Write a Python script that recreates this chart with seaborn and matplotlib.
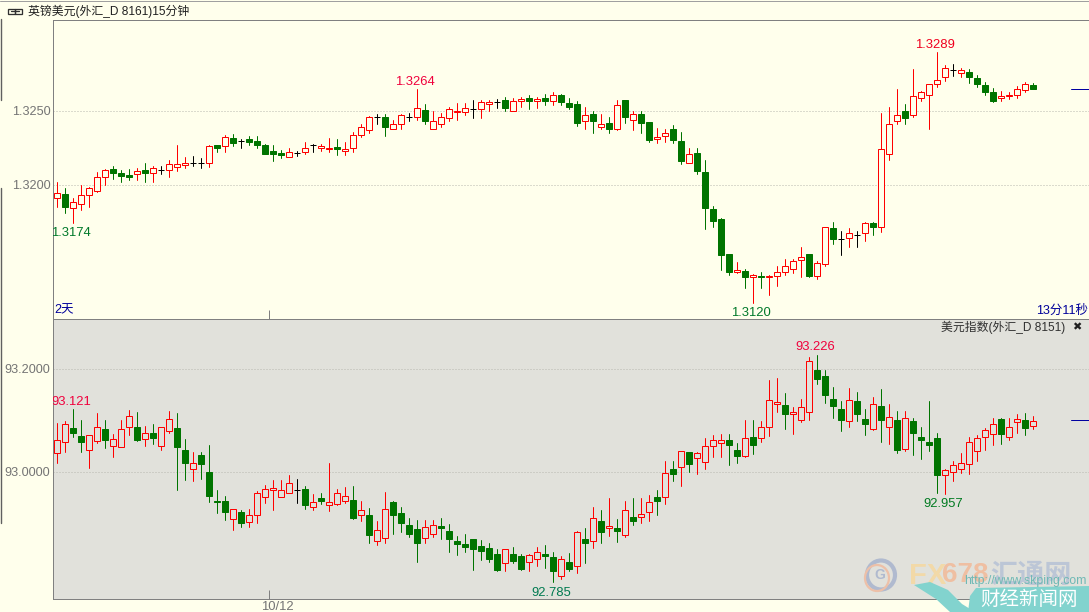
import matplotlib
matplotlib.use("Agg")
import numpy as np
import pandas as pd
import seaborn as sns
import matplotlib.pyplot as plt
from matplotlib.lines import Line2D
from matplotlib.patches import Polygon, Ellipse, Rectangle

# ---------------- GBP/USD 15-minute candles ----------------
top_high = [1.32016,1.31975,1.31908,1.31995,1.31982,1.32083,1.32104,1.32124,1.32097,1.32104,
1.32115,1.32144,1.32124,1.32126,1.32164,1.32266,1.32185,1.32191,1.32182,1.3227,
1.3227,1.32333,1.3234,1.32306,1.32327,1.32327,1.32272,1.32266,1.32234,1.32245,
1.3223,1.32286,1.32272,1.32272,1.32313,1.32306,1.32286,1.32354,1.32412,1.32462,
1.32477,1.32475,1.32439,1.3248,1.32482,1.32644,1.32543,1.32495,1.32482,1.32522,
1.32549,1.32549,1.3257,1.3257,1.3257,1.32581,1.3259,1.32583,1.3259,1.32604,
1.3259,1.3261,1.32624,1.3261,1.32583,1.32563,1.32522,1.32495,1.32475,1.32455,
1.3257,1.3257,1.32495,1.32495,1.32421,1.32381,1.32374,1.32401,1.32354,1.32245,
1.32245,1.32164,1.31854,1.31773,1.31529,1.31475,1.31428,1.31394,1.31408,1.31392,
1.31448,1.31496,1.315,1.31577,1.31534,1.31487,1.31716,1.31746,1.31685,1.31705,
1.31687,1.31746,1.31746,1.32482,1.32522,1.32644,1.32543,1.32779,1.32631,1.32682,
1.32894,1.32811,1.32813,1.3279,1.32779,1.32739,1.32691,1.32651,1.32631,1.32624,
1.32664,1.32691,1.32685]
top_low = [1.31849,1.31809,1.31741,1.31831,1.31849,1.3195,1.31998,1.32036,1.32018,1.32032,
1.32032,1.32018,1.32018,1.32072,1.32052,1.32092,1.32113,1.32124,1.32115,1.32119,
1.32221,1.32221,1.32261,1.32248,1.3227,1.32248,1.32207,1.3216,1.3218,1.32189,
1.32196,1.32209,1.32221,1.32227,1.32221,1.322,1.322,1.32221,1.32324,1.32349,
1.32408,1.32327,1.32376,1.32376,1.3243,1.32435,1.32408,1.32378,1.3239,1.3243,
1.32435,1.32468,1.32453,1.32448,1.32495,1.32516,1.32495,1.325,1.32522,1.32509,
1.32516,1.32536,1.32536,1.32536,1.32511,1.32394,1.32374,1.32349,1.32374,1.32349,
1.32369,1.32417,1.32367,1.32349,1.32286,1.32282,1.32286,1.32279,1.3214,1.32149,
1.32072,1.31698,1.31714,1.31421,1.31387,1.31401,1.313,1.31201,1.313,1.31252,
1.31313,1.31387,1.31401,1.31374,1.31374,1.3136,1.31448,1.31597,1.31523,1.31577,
1.31577,1.31617,1.31658,1.31678,1.32164,1.32408,1.32408,1.32455,1.32563,1.32374,
1.32658,1.32698,1.32732,1.32725,1.32685,1.32658,1.32604,1.32556,1.32563,1.32577,
1.32583,1.32624,1.32644]
top_open = [1.31912,1.31935,1.31845,1.31872,1.31932,1.31959,1.32054,1.32104,1.32077,1.32063,
1.32074,1.32097,1.32081,1.32099,1.32101,1.32122,1.32135,1.32146,1.32144,1.32149,
1.32268,1.32263,1.32313,1.32293,1.32306,1.32293,1.32266,1.32225,1.32214,1.32189,
1.32214,1.32223,1.32266,1.3225,1.32243,1.32252,1.3223,1.3225,1.32338,1.32372,
1.32455,1.32455,1.32378,1.32412,1.32457,1.32459,1.32502,1.32378,1.32412,1.32453,
1.32493,1.32493,1.32513,1.32513,1.32547,1.32561,1.3257,1.325,1.32567,1.32583,
1.32567,1.32583,1.32567,1.32604,1.32549,1.32543,1.32432,1.32475,1.32392,1.32414,
1.32376,1.3257,1.32439,1.32475,1.32421,1.32311,1.32331,1.32374,1.32293,1.32149,
1.32212,1.32083,1.31833,1.31766,1.31529,1.3141,1.31414,1.31378,1.31385,1.31378,
1.31385,1.31412,1.31433,1.31493,1.31529,1.31385,1.31464,1.31705,1.31635,1.31642,
1.31662,1.31676,1.31739,1.31714,1.32209,1.32432,1.32495,1.32471,1.32588,1.32608,
1.32682,1.3273,1.32777,1.32757,1.32759,1.32718,1.32671,1.32624,1.32588,1.32601,
1.32606,1.32642,1.32671]
top_close = [1.31946,1.31849,1.31885,1.31932,1.3198,1.32054,1.32101,1.32079,1.32059,1.32052,
1.32095,1.32079,1.32115,1.32099,1.32142,1.32142,1.32149,1.32146,1.32144,1.32263,
1.32248,1.32324,1.32282,1.32293,1.32288,1.32268,1.32207,1.32207,1.32198,1.32223,
1.32214,1.3225,1.32266,1.32263,1.3225,1.32241,1.32243,1.32338,1.32392,1.32459,
1.32455,1.3239,1.32412,1.32473,1.32457,1.3252,1.3243,1.32432,1.32459,1.32513,
1.325,1.3252,1.32513,1.32561,1.32561,1.32561,1.32518,1.32567,1.32581,1.32565,
1.32581,1.32565,1.32608,1.32556,1.32525,1.32417,1.32473,1.3243,1.32412,1.32376,
1.3254,1.32457,1.3248,1.32417,1.32302,1.32324,1.32351,1.32302,1.3216,1.32209,
1.32092,1.31842,1.31755,1.31525,1.31408,1.31426,1.31376,1.31392,1.31376,1.31385,
1.31412,1.31453,1.31487,1.31514,1.31381,1.31473,1.31716,1.31633,1.31635,1.31676,
1.31662,1.31743,1.31714,1.32243,1.32412,1.32473,1.3245,1.32601,1.32628,1.32682,
1.32709,1.3279,1.32777,1.32777,1.32725,1.32678,1.32626,1.32563,1.32601,1.32608,
1.32649,1.32682,1.32646]

# ---------------- US dollar index candles ----------------
bot_high = [93.094,93.098,93.121,93.100,93.072,93.113,93.100,93.074,93.100,93.119,
93.115,93.088,93.092,93.087,93.117,93.113,93.063,93.039,93.038,93.051,
92.964,92.952,92.928,92.925,92.927,92.962,92.975,92.983,92.983,92.993,
92.985,92.973,92.956,92.958,93.016,92.966,92.970,92.972,92.944,92.929,
92.904,92.960,92.944,92.931,92.911,92.907,92.906,92.906,92.911,92.898,
92.876,92.880,92.869,92.867,92.861,92.849,92.849,92.853,92.840,92.841,
92.853,92.857,92.845,92.836,92.843,92.884,92.890,92.931,92.925,92.948,
92.909,92.944,92.948,92.948,92.954,92.964,93.020,93.020,93.041,93.039,
93.038,93.065,93.072,93.074,93.074,93.055,93.100,93.100,93.098,93.177,
93.181,93.152,93.125,93.142,93.222,93.226,93.197,93.164,93.137,93.162,
93.154,93.121,93.144,93.160,93.131,93.117,93.117,93.105,93.086,93.137,
93.076,93.006,93.020,93.036,93.067,93.071,93.084,93.105,93.105,93.104,
93.111,93.113,93.109]
bot_low = [93.016,93.039,93.067,93.038,93.008,93.055,93.045,93.028,93.047,93.071,
93.060,93.049,93.053,93.043,93.076,92.964,92.983,92.981,92.985,92.942,
92.919,92.906,92.886,92.892,92.892,92.900,92.939,92.925,92.950,92.958,
92.940,92.927,92.925,92.937,92.923,92.935,92.939,92.909,92.904,92.861,
92.857,92.861,92.880,92.882,92.874,92.824,92.861,92.873,92.869,92.845,
92.838,92.845,92.810,92.828,92.824,92.808,92.807,92.822,92.810,92.808,
92.816,92.814,92.785,92.791,92.807,92.803,92.822,92.851,92.861,92.876,
92.863,92.874,92.896,92.900,92.904,92.915,92.937,92.981,92.973,92.999,
92.995,93.006,93.028,93.028,93.012,93.016,93.028,93.034,93.057,93.069,
93.115,93.082,93.074,93.096,93.100,93.171,93.133,93.104,93.078,93.086,
93.098,93.072,93.081,93.057,93.053,93.036,93.041,93.032,93.024,93.041,
92.958,92.957,92.981,92.997,92.995,93.020,93.043,93.051,93.053,93.061,
93.076,93.071,93.082]
bot_open = [93.037,93.058,93.085,93.070,93.043,93.060,93.083,93.049,93.047,93.087,
93.087,93.064,93.076,93.050,93.078,93.085,93.043,93.006,93.032,92.999,
92.944,92.944,92.909,92.921,92.903,92.915,92.950,92.965,92.951,92.959,
92.964,92.966,92.932,92.948,92.936,92.937,92.944,92.946,92.916,92.915,
92.866,92.871,92.942,92.919,92.896,92.888,92.871,92.879,92.894,92.884,
92.865,92.859,92.869,92.855,92.851,92.841,92.823,92.840,92.836,92.825,
92.831,92.840,92.834,92.798,92.824,92.816,92.869,92.866,92.904,92.891,
92.890,92.878,92.913,92.912,92.922,92.950,92.951,93.006,93.010,93.039,
93.027,93.019,93.049,93.056,93.061,93.043,93.030,93.067,93.066,93.087,
93.132,93.129,93.112,93.100,93.115,93.197,93.185,93.142,93.121,93.098,
93.137,93.102,93.082,93.127,93.087,93.100,93.044,93.098,93.067,93.057,
93.065,92.994,93.000,93.006,93.014,93.041,93.068,93.074,93.102,93.068,
93.097,93.100,93.089]
bot_close = [93.062,93.093,93.075,93.058,93.072,93.087,93.061,93.064,93.083,93.109,
93.061,93.076,93.065,93.087,93.103,93.048,93.017,93.017,93.015,92.953,
92.942,92.922,92.928,92.900,92.915,92.959,92.967,92.969,92.965,92.979,
92.964,92.935,92.942,92.943,92.942,92.959,92.953,92.911,92.926,92.878,
92.887,92.928,92.915,92.900,92.880,92.861,92.893,92.897,92.890,92.869,
92.859,92.853,92.849,92.847,92.830,92.810,92.849,92.826,92.812,92.839,
92.845,92.836,92.807,92.831,92.812,92.883,92.861,92.911,92.882,92.895,
92.884,92.926,92.904,92.918,92.942,92.944,92.998,92.995,93.041,93.014,
93.037,93.050,93.062,93.062,93.051,93.030,93.066,93.051,93.087,93.140,
93.135,93.111,93.115,93.126,93.214,93.179,93.148,93.127,93.100,93.140,
93.111,93.092,93.132,93.100,93.107,93.043,93.105,93.076,93.061,93.051,
92.993,93.004,93.012,93.016,93.058,93.066,93.080,93.093,93.074,93.087,
93.103,93.085,93.099]

top_ticks = [1.3200, 1.3250]
bot_ticks = [93.0, 93.2]
date_tick = 26.5
date_label = "10/12"
top_title = "英镑美元(外汇_D 8161)15分钟"
bot_title = "美元指数(外汇_D 8151)"
top_last, bot_last = 1.32649, 93.0996

PALE = "#FFFFEC"
PANEL = "#E1E1DB"
RED, GREEN, BLACK = "#FF0000", "#007400", "#000000"
GRAY = "#808080"
W, H = 1089, 612
LEFT = 53.2
FIRST_CANDLE_PX = 57.2

sns.set_theme(style="white")
plt.rcParams["font.family"] = ["Liberation Sans", "Noto Sans CJK SC", "DejaVu Sans"]
PX = 0.72  # one pixel, in points, at dpi 100

fig = plt.figure(figsize=(W / 100, H / 100), dpi=100, facecolor=PALE)


def make_axes(y_top, y_bot):
    return fig.add_axes([LEFT / W, 1 - y_bot / H, (W - LEFT) / W, (y_bot - y_top) / H])


def draw_candles(ax, opens, highs, lows, closes, bg, ylim, ticks):
    o, h, l, c = map(np.asarray, (opens, highs, lows, closes))
    n = len(o)
    idx = np.arange(n)
    kind = np.where(c > o, "up", np.where(c < o, "down", "flat"))
    df = pd.DataFrame({"i": np.r_[idx, idx], "price": np.r_[h, l], "kind": np.r_[kind, kind]})
    sns.lineplot(data=df, x="i", y="price", hue="kind", units="i", estimator=None,
                 palette={"up": RED, "down": GREEN, "flat": BLACK}, legend=False,
                 linewidth=PX, sort=False, ax=ax, zorder=2)
    ax.bar(idx[kind == "up"], (c - o)[kind == "up"], bottom=o[kind == "up"], width=0.75,
           facecolor=bg, edgecolor=RED, linewidth=PX, zorder=3)
    ax.bar(idx[kind == "down"], (c - o)[kind == "down"], bottom=o[kind == "down"], width=0.75,
           facecolor=GREEN, edgecolor=GREEN, linewidth=PX, zorder=3)
    ax.bar(idx[kind == "flat"], 0, bottom=o[kind == "flat"], width=0.75,
           facecolor=BLACK, edgecolor=BLACK, linewidth=PX, zorder=3)
    ax.set_facecolor(bg)
    ax.set_xlim((LEFT - FIRST_CANDLE_PX) / 8, (W - FIRST_CANDLE_PX) / 8)
    ax.set_ylim(*ylim)
    ax.set_xlabel("")
    ax.set_ylabel("")
    ax.set_xticks([date_tick])
    ax.set_xticklabels([""])
    ax.tick_params(axis="x", direction="in", length=9 * PX, width=PX, color=GRAY, bottom=True)
    ax.set_yticks(ticks)
    ax.set_yticklabels([f"{t:.4f}" for t in ticks], fontsize=9.1, color="#747474")
    ax.tick_params(axis="y", length=0, pad=2.0)
    ax.yaxis.grid(True, linestyle=(0, (1, 2)), color="#B8B8B0", linewidth=PX, zorder=1)
    ax.xaxis.grid(False)
    ax.spines["right"].set_visible(False)
    for side in ("left", "bottom", "top"):
        ax.spines[side].set_color(GRAY)
        ax.spines[side].set_linewidth(PX)


ax1 = make_axes(20.2, 319.2)
ax2 = make_axes(320.0, 599.2)
draw_candles(ax1, top_open, top_high, top_low, top_close, PALE, (1.310913, 1.331114), top_ticks)
draw_candles(ax2, bot_open, bot_high, bot_low, bot_close, PANEL, (92.7525, 93.2944), bot_ticks)
ax2.spines["top"].set_visible(False)


def extreme(ax, i, price, text, color, dy, dx=0):
    ax.annotate(text, xy=(i, price), xytext=(dx, dy), textcoords="offset pixels", ha="center",
                va="center", fontsize=9.4, color=color, zorder=6, annotation_clip=False,
                clip_on=True)


extreme(ax1, 45, 1.32644, "1.3264", "#F0003C", 7, dx=-2)
extreme(ax1, 110, 1.32894, "1.3289", "#F0001E", 7, dx=-2)
extreme(ax1, 2, 1.31741, "1.3174", "#00792A", -10, dx=-2)
extreme(ax1, 87, 1.31201, "1.3120", "#00792A", -10, dx=-2)
extreme(ax2, 2, 93.121, "93.121", "#F0003C", 7, dx=-2)
extreme(ax2, 95, 93.226, "93.226", "#F0003C", 8, dx=-2)
extreme(ax2, 110, 92.958, "92.957", "#007A20", -11, dx=6)
extreme(ax2, 62, 92.785, "92.785", "#007A50", -11, dx=-2)

# last-price markers at the right edge
for ax, last in ((ax1, top_last), (ax2, bot_last)):
    ax.plot([126.7, 128.94], [last, last], color="#0000A0", linewidth=PX, zorder=4)


def ftext(x, y, s, **kw):
    kw.setdefault("va", "center")
    kw.setdefault("fontsize", 8.6)
    return fig.text(x / W, 1 - y / H, s, **kw)


ftext(28, 11, top_title, color="#202020", fontsize=8.55)
ftext(54, 310.5, "2天", color="#00009A", fontsize=9)
ftext(1088, 311, "13分11秒", color="#00009A", ha="right", fontsize=9)
ftext(1065, 327, bot_title, color="#303030", ha="right", fontsize=8.55)
ftext(1077, 327, "✖", color="#202020", ha="center", fontsize=8, family="DejaVu Sans")
ftext(261, 606.5, date_label, color="#747474", fontsize=9.4)

# link icon in the title bar
fig.add_artist(Rectangle((8 / W, 1 - 13.5 / H), 7 / W, 5 / H, fill=False, ec="#303030", lw=PX * 1.3))
fig.add_artist(Rectangle((15 / W, 1 - 13.5 / H), 7 / W, 5 / H, fill=False, ec="#303030", lw=PX * 1.3))
fig.add_artist(Line2D([11 / W, 19 / W], [1 - 11 / H] * 2, color="#303030", lw=PX * 1.3))

# window edges
fig.add_artist(Line2D([0, 1], [1 - 0.5 / H] * 2, color="#A0A0A0", lw=PX))
fig.add_artist(Line2D([0.5 / W] * 2, [1 - 19 / H, 1 - 100 / H], color="#606060", lw=PX * 1.4))
fig.add_artist(Line2D([0.5 / W] * 2, [1 - 188 / H, 1 - 523 / H], color="#606060", lw=PX * 1.4))

# watermark
fig.add_artist(Ellipse((881 / W, 1 - 575 / H), 28 / W, 29 / H, fill=False, ec="#B0BACF", lw=3.0, zorder=7))
fig.add_artist(Ellipse((877 / W, 1 - 578 / H), 24 / W, 26 / H, fill=False, ec="#EDC0A8", lw=1.6, zorder=7))
ftext(880, 575, "G", color="#B0BACF", fontsize=10, fontweight="bold", ha="center", zorder=8)
ftext(909, 575.5, "FX", color="#F2D9A8", fontsize=21, fontweight="bold", zorder=7)
ftext(942, 575.5, "678", color="#EFBFA2", fontsize=20, fontweight="bold", zorder=7)
ftext(990, 576, "汇通网", color="#BCC6D6", fontsize=19.5, fontweight="bold", zorder=7)
ftext(964, 581, "http://www.skping.com", color="#6FB9B5", fontsize=8.8, zorder=8)
fig.add_artist(Polygon([(968 / W, 1 - 612 / H), (970 / W, 1 - 596 / H), (976 / W, 1 - 588 / H),
                        (1089 / W, 1 - 586 / H), (1089 / W, 0)], closed=True,
                       fc="#82D3CE", ec="none", zorder=8))
fig.add_artist(Polygon([(914 / W, 1 - 585 / H), (930 / W, 1 - 582 / H), (948 / W, 1 - 590 / H),
                        (962 / W, 1 - 604 / H), (975 / W, 1 - 612 / H), (950 / W, 1 - 612 / H),
                        (936 / W, 1 - 599 / H), (925 / W, 1 - 592 / H)], closed=True,
                       fc="#82D3CE", ec="none", zorder=8))
ftext(1029, 599.5, "财经新闻网", color="white", fontsize=14, ha="center", zorder=9)

fig.savefig("out.png", dpi=100, facecolor=fig.get_facecolor())
